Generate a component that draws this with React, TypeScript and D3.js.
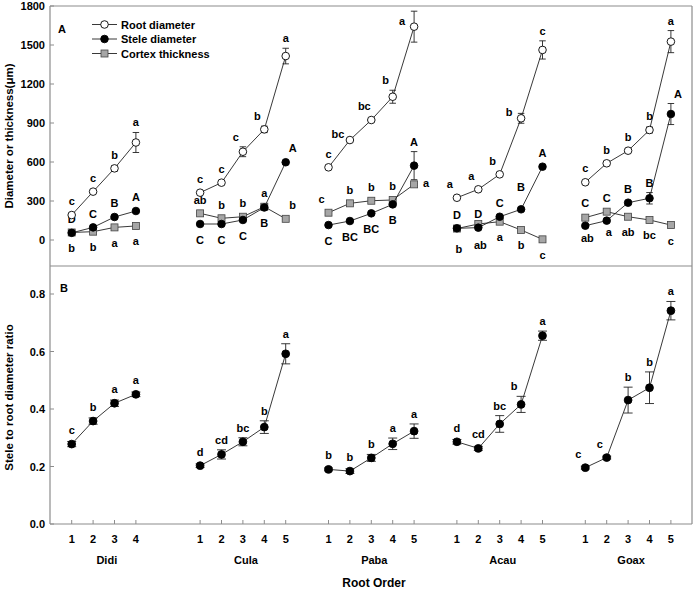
import React from "react";
import * as d3 from "d3";

// species groups and root orders
const species = ["Didi", "Cula", "Paba", "Acau", "Goax"];
const orders = [
  [1, 2, 3, 4],
  [1, 2, 3, 4, 5],
  [1, 2, 3, 4, 5],
  [1, 2, 3, 4, 5],
  [1, 2, 3, 4, 5],
];
const groupStart = [1, 7, 13, 19, 25];

// panel A (um)
const rootDiameter = [
  [192, 372, 551, 750],
  [364, 441, 679, 851, 1415],
  [559, 769, 923, 1102, 1641],
  [325, 390, 505, 936, 1462],
  [444, 590, 687, 846, 1526],
];
const rootErr = [
  [8, 10, 20, 77],
  [8, 10, 38, 25, 60],
  [8, 10, 12, 50, 119],
  [8, 8, 12, 38, 70],
  [8, 8, 12, 23, 85],
];
const rootLetters = [
  ["c", "c", "b", "a"],
  ["c", "c", "c", "b", "a"],
  ["c", "bc", "bc", "b", "a"],
  ["a", "a", "b", "b", "c"],
  ["c", "b", "b", "b", "a"],
];

const steleDiameter = [
  [55, 97, 177, 223],
  [123, 123, 154, 250, 598],
  [115, 146, 205, 274, 572],
  [90, 95, 179, 236, 564],
  [110, 149, 287, 321, 969],
];
const steleErr = [
  [4, 5, 8, 10],
  [5, 5, 8, 10, 12],
  [5, 6, 8, 12, 108],
  [4, 5, 8, 10, 14],
  [5, 6, 12, 44, 81],
];
const steleLetters = [
  ["D", "C", "B", "A"],
  ["C", "C", "C", "B", "A"],
  ["C", "BC", "BC", "B", "A"],
  ["D", "D", "C", "B", "A"],
  ["C", "C", "B", "B", "A"],
];

const cortexThickness = [
  [58, 64, 97, 108],
  [205, 167, 179, 256, 163],
  [210, 282, 302, 308, 428],
  [88, 123, 141, 77, 5],
  [172, 218, 179, 154, 115],
];
const cortexErr = [
  [4, 4, 5, 5],
  [5, 5, 5, 6, 5],
  [5, 5, 5, 6, 8],
  [4, 5, 5, 5, 3],
  [5, 5, 5, 5, 5],
];
const cortexLetters = [
  ["b", "b", "a", "a"],
  ["ab", "b", "b", "a", "b"],
  ["c", "b", "b", "b", "a"],
  ["b", "ab", "a", "b", "c"],
  ["ab", "a", "ab", "bc", "c"],
];

// panel B
const ratio = [
  [0.278, 0.358, 0.42, 0.451],
  [0.203, 0.242, 0.286, 0.337, 0.592],
  [0.19, 0.184, 0.23, 0.279, 0.323],
  [0.286, 0.263, 0.348, 0.416, 0.655],
  [0.196, 0.231, 0.431, 0.474, 0.742],
];
const ratioErr = [
  [0.009, 0.011, 0.011, 0.008],
  [0.006, 0.016, 0.014, 0.022, 0.035],
  [0.005, 0.008, 0.012, 0.02, 0.025],
  [0.008, 0.007, 0.029, 0.028, 0.016],
  [0.005, 0.005, 0.045, 0.055, 0.032],
];
const ratioLetters = [
  ["c", "b", "a", "a"],
  ["d", "cd", "bc", "b", "a"],
  ["b", "b", "b", "a", "a"],
  ["d", "cd", "bc", "b", "a"],
  ["c", "c", "b", "b", "a"],
];

const topTicks = [0, 300, 600, 900, 1200, 1500, 1800];
const bottomTicks = [0.0, 0.2, 0.4, 0.6, 0.8];

// letter placement around each point (layout only)
const rootSide = [
  ["t", "t", "t", "t"],
  ["t", "t", "tl", "tl", "t"],
  ["t", "l", "tl", "tl", "l"],
  ["tl", "tl", "tl", "l", "t"],
  ["t", "t", "t", "t", "t"],
];
const steleSide = [
  ["t", "t", "t", "t"],
  ["b", "b", "b", "b", "tr"],
  ["b", "b", "b", "b", "t"],
  ["t", "t", "t", "t2", "t"],
  ["t2", "t2", "t", "t", "tr"],
];
const cortexSide = [
  ["b", "b", "b", "b"],
  ["t", "t", "t", "t", "tr"],
  ["tl", "t", "t", "t", "r"],
  ["b2", "b2", "b", "b", "b"],
  ["b2", "b2", "b", "b", "b"],
];
const ratioSide = [
  ["t", "t", "t", "t"],
  ["t", "t", "t", "t", "t"],
  ["t", "t", "t", "t", "t"],
  ["t", "t", "t", "tl", "t"],
  ["tl", "tl", "t", "t", "t"],
];

const FONT = "'Liberation Sans', Arial, sans-serif";
const frameColor = "#8c8c8c";

const x = d3.scaleLinear().domain([0, 30]).range([50.3, 692.3]);
const yTop = d3.scaleLinear().domain([-200, 1800]).range([266, 6]);
const yBot = d3.scaleLinear().domain([0, 0.9]).range([524, 265.25]);

const pos = (g: number, i: number) => x(groupStart[g] + orders[g][i] - 1);

function labelXY(side: string, px: number, py: number, yHi: number, yLo: number): [number, number] {
  switch (side) {
    case "t": return [px, yHi - 10];
    case "t2": return [px, yHi - 19];
    case "tl": return [px - 7, yHi - 10];
    case "tr": return [px + 7, yHi - 10];
    case "l": return [px - 12, py - 6];
    case "r": return [px + 12, py - 1];
    case "b2": return [px + 2, yLo + 17];
    default: return [px, yLo + 12];
  }
}

type Marker = "open" | "filled" | "square";

function Series({ values, errs, letters, sides, y, marker, cap, r }: {
  values: number[][]; errs: number[][]; letters: string[][]; sides: string[][];
  y: d3.ScaleLinear<number, number>; marker: Marker; cap: number; r: number;
}) {
  const line = d3.line<[number, number]>().x((d) => d[0]).y((d) => d[1]);
  return (
    <g>
      {values.map((vals, g) => {
        const pts: [number, number][] = vals.map((v, i) => [pos(g, i), y(v)]);
        return (
          <g key={g}>
            <path d={line(pts) ?? ""} fill="none" stroke="#222" strokeWidth={0.9} />
            {vals.map((v, i) => {
              const px = pos(g, i);
              const e = errs[g][i];
              const yHi = y(v + e);
              const yLo = y(v - e);
              return (
                <g key={i} stroke="#222" strokeWidth={0.9}>
                  <line x1={px} x2={px} y1={yHi} y2={yLo} />
                  <line x1={px - cap / 2} x2={px + cap / 2} y1={yHi} y2={yHi} />
                  <line x1={px - cap / 2} x2={px + cap / 2} y1={yLo} y2={yLo} />
                </g>
              );
            })}
            {vals.map((v, i) => {
              const px = pos(g, i);
              const py = y(v);
              if (marker === "square")
                return <rect key={i} x={px - r} y={py - r} width={2 * r} height={2 * r} fill="#a6a6a6" stroke="#444" strokeWidth={0.8} />;
              return <circle key={i} cx={px} cy={py} r={r} fill={marker === "open" ? "#fff" : "#000"} stroke="#000" strokeWidth={0.9} />;
            })}
            {vals.map((v, i) => {
              const e = errs[g][i];
              const [lx, ly] = labelXY(sides[g][i], pos(g, i), y(v), Math.min(y(v + e), y(v) - r), Math.max(y(v - e), y(v) + r));
              return (
                <text key={i} x={lx} y={ly} textAnchor="middle" dominantBaseline="central"
                  fontFamily={FONT} fontWeight="bold" fontSize={11} fill="#000">
                  {letters[g][i]}
                </text>
              );
            })}
          </g>
        );
      })}
    </g>
  );
}

export default function App() {
  const legend: { label: string; marker: Marker }[] = [
    { label: "Root diameter", marker: "open" },
    { label: "Stele diameter", marker: "filled" },
    { label: "Cortex thickness", marker: "square" },
  ];
  const allPositions = species.flatMap((_, g) => orders[g].map((o, i) => ({ g, o, px: pos(g, i) })));

  return (
    <svg width={697} height={590} style={{ position: "absolute", left: 0, top: 0, background: "#fff" }}>
      {/* frame */}
      <g stroke={frameColor} strokeWidth={1.2} fill="none">
        <line x1={50} x2={692} y1={6} y2={6} />
        <line x1={692} x2={692} y1={6} y2={524} />
        <line x1={50} x2={692} y1={266} y2={266} />
        <line x1={50} x2={50} y1={6} y2={524} />
        <line x1={50} x2={692} y1={524} y2={524} />
      </g>

      {/* y ticks panel A */}
      {topTicks.map((t) => (
        <g key={t}>
          <line x1={50} x2={54} y1={yTop(t)} y2={yTop(t)} stroke={frameColor} strokeWidth={1} />
          <text x={45} y={yTop(t)} textAnchor="end" dominantBaseline="central" fontFamily={FONT} fontWeight="bold" fontSize={11}>{t}</text>
        </g>
      ))}
      {/* y ticks panel B */}
      {bottomTicks.map((t) => (
        <g key={t}>
          <line x1={50} x2={54} y1={yBot(t)} y2={yBot(t)} stroke={frameColor} strokeWidth={1} />
          <text x={45} y={yBot(t)} textAnchor="end" dominantBaseline="central" fontFamily={FONT} fontWeight="bold" fontSize={11}>{t.toFixed(1)}</text>
        </g>
      ))}

      {/* x ticks */}
      {allPositions.map(({ g, o, px }) => (
        <g key={`${g}-${o}`}>
          <line x1={px} x2={px} y1={524} y2={520} stroke={frameColor} strokeWidth={1} />
          <text x={px} y={539} textAnchor="middle" dominantBaseline="central" fontFamily={FONT} fontWeight="bold" fontSize={11}>{o}</text>
        </g>
      ))}
      {species.map((s, g) => {
        const mid = (pos(g, 0) + pos(g, orders[g].length - 1)) / 2 + 3;
        return (
          <text key={s} x={mid} y={560} textAnchor="middle" dominantBaseline="central" fontFamily={FONT} fontWeight="bold" fontSize={11}>{s}</text>
        );
      })}
      <text x={374} y={583} textAnchor="middle" dominantBaseline="central" fontFamily={FONT} fontWeight="bold" fontSize={12}>Root Order</text>

      {/* axis titles */}
      <text transform={`translate(9,${yTop(800)}) rotate(-90)`} textAnchor="middle" dominantBaseline="central" fontFamily={FONT} fontWeight="bold" fontSize={11.5}>Diameter or thickness(μm)</text>
      <text transform={`translate(9,${yBot(0.44)}) rotate(-90)`} textAnchor="middle" dominantBaseline="central" fontFamily={FONT} fontWeight="bold" fontSize={11.5}>Stele to root diameter ratio</text>

      {/* panel letters */}
      <text x={62} y={29} textAnchor="middle" dominantBaseline="central" fontFamily={FONT} fontWeight="bold" fontSize={11}>A</text>
      <text x={64} y={288} textAnchor="middle" dominantBaseline="central" fontFamily={FONT} fontWeight="bold" fontSize={11}>B</text>

      {/* legend */}
      {legend.map((l, i) => {
        const ly = 24.5 + i * 14.5;
        return (
          <g key={l.label}>
            <line x1={92} x2={117} y1={ly} y2={ly} stroke="#222" strokeWidth={0.9} />
            {l.marker === "square" ? (
              <rect x={104.5 - 3.5} y={ly - 3.5} width={7} height={7} fill="#a6a6a6" stroke="#444" strokeWidth={0.8} />
            ) : (
              <circle cx={104.5} cy={ly} r={3.8} fill={l.marker === "open" ? "#fff" : "#000"} stroke="#000" strokeWidth={0.9} />
            )}
            <text x={121} y={ly} dominantBaseline="central" fontFamily={FONT} fontWeight="bold" fontSize={11}>{l.label}</text>
          </g>
        );
      })}

      {/* panel A series */}
      <Series values={cortexThickness} errs={cortexErr} letters={cortexLetters} sides={cortexSide} y={yTop} marker="square" cap={6.5} r={3.5} />
      <Series values={steleDiameter} errs={steleErr} letters={steleLetters} sides={steleSide} y={yTop} marker="filled" cap={6.5} r={3.8} />
      <Series values={rootDiameter} errs={rootErr} letters={rootLetters} sides={rootSide} y={yTop} marker="open" cap={6.5} r={3.8} />

      {/* panel B series */}
      <Series values={ratio} errs={ratioErr} letters={ratioLetters} sides={ratioSide} y={yBot} marker="filled" cap={9} r={3.9} />
    </svg>
  );
}
